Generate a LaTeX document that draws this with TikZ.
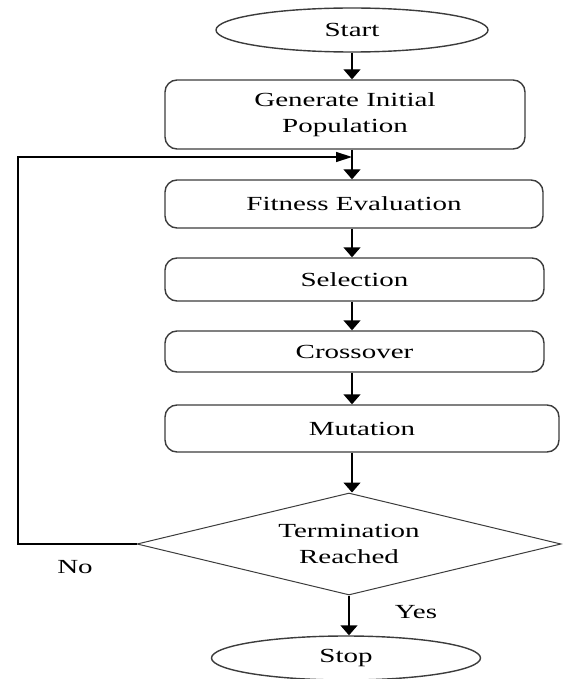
\documentclass[tikz,border=0pt]{standalone}
\usepackage{fontspec}
\setmainfont[FakeStretch=1.45]{Liberation Serif}
\usetikzlibrary{arrows.meta,shapes.geometric,calc}
\definecolor{LineClr}{RGB}{60,60,60}
\newcommand{\flowfont}{\fontsize{20}{26}\selectfont}

\begin{document}
\begin{tikzpicture}[x=1pt,y=1pt,
  line width=1.4pt,
  arr/.style={-{Triangle[width=17pt,length=10pt]},color=black},
  arrh/.style={-{Triangle[width=10pt,length=16pt]},color=black},
  term/.style={ellipse,draw=LineClr,minimum width=272pt,minimum height=44pt,inner sep=0pt,font=\flowfont},
  proc/.style={rectangle,draw=LineClr,rounded corners=12pt,inner sep=0pt,align=center,font=\flowfont},
  test/.style={diamond,draw=LineClr,line width=1pt,aspect=4.15,inner sep=0pt,
    minimum width=424pt,minimum height=102pt,align=center,font=\flowfont},
  lbl/.style={inner sep=0pt,font=\flowfont}]
\useasboundingbox (0,0) rectangle (562,-679);

\node[term] (Start) at (352,-30) {Start};
\node[proc,minimum width=360pt,minimum height=69pt] (Generate) at (345,-114.5) {Generate Initial\\Population};
\node[proc,minimum width=378pt,minimum height=48pt] (Fitness) at (354,-204) {Fitness Evaluation};
\node[proc,minimum width=379pt,minimum height=43pt] (Selection) at (354.5,-279.5) {Selection};
\node[proc,minimum width=379pt,minimum height=41pt] (Crossover) at (354.5,-351.5) {Crossover};
\node[proc,minimum width=394pt,minimum height=47pt] (Mutation) at (362,-428.5) {Mutation};
\node[test] (Check) at (349,-544) {Termination\\Reached};
\node[term,minimum width=269pt] (Stop) at (346,-658) {Stop};

\node[lbl] (No) at (75,-567) {No};
\node[lbl] (Yes) at (416,-612) {Yes};

\coordinate (join) at (352,-157);
\coordinate (loop) at (18,-544);

% main chain
\draw[arr] (Start.south) -- (Start.south |- Generate.north);
\draw[arr] (Generate.south -| join) -- (Fitness.north -| join);
\draw[arr] (Fitness.south -| join) -- (Selection.north -| join);
\draw[arr] (Selection.south -| join) -- (Crossover.north -| join);
\draw[arr] (Crossover.south -| join) -- (Mutation.north -| join);
\draw[arr] (Mutation.south -| join) -- (Check.north -| join);
\draw[arr] (Check.south) -- (Check.south |- Stop.north);

% back to fitness
\draw[arrh] (Check.west) -- (loop) |- (join);

\end{tikzpicture}
\end{document}
